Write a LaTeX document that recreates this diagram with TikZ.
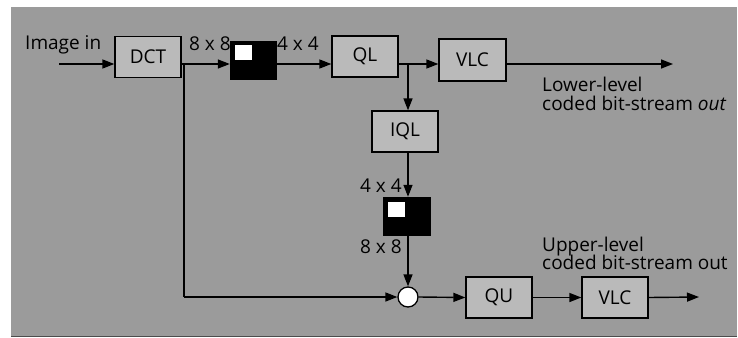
\documentclass[tikz,border=0pt]{standalone}
\usepackage{fontspec}
\setmainfont{Open Sans}
\usetikzlibrary{arrows.meta}
\definecolor{bgc}{RGB}{155,155,155}
\definecolor{boxc}{RGB}{186,186,186}
\begin{document}
\begin{tikzpicture}[x=1pt,y=-1pt,
  every node/.style={font=\fontsize{19}{21}\selectfont, inner sep=0pt},
  blk/.style={draw=black, line width=1.3pt, fill=boxc, minimum width=66pt, minimum height=41pt},
  blkbox/.style={fill=black, minimum width=47pt, minimum height=39pt},
  wsq/.style={fill=white, minimum width=17pt, minimum height=15pt},
  lbl/.style={anchor=base west},
  arr/.style={line width=1.4pt, -{Triangle[length=12pt,width=9pt]}},
  ln/.style={line width=1.4pt}]
\useasboundingbox (0,0) rectangle (738,337);
\fill[bgc] (11,7) rectangle (737,336);
\draw[black!70, line width=0.6pt] (11,336) -- (737,336);

% top row
\coordinate (row1) at (0,64);
\coordinate (in) at (59,64);
\node[blk] (DCT) at (148,57) {DCT};
\node[blkbox] (B1) at (253.5,60.5) {};
\node[wsq] (W1) at (243,52.5) {};
\node[blk] (QL) at (365,56.5) {QL};
\node[blk, minimum width=67pt, minimum height=42pt] (VLC1) at (472.5,60) {VLC};
\coordinate (out1) at (673,64);
\coordinate (br1) at (184,64);
\coordinate (br2) at (408,64);

% middle
\node[blk] (IQL) at (405,131.5) {IQL};
\node[blkbox, minimum width=48pt] (B2) at (407,216.5) {};
\node[wsq] (W2) at (396.5,209) {};
\node[circle, draw=black, fill=white, line width=1.3pt, minimum size=20pt] (C) at (408,297) {};

% bottom row
\node[blk] (QU) at (499,297.5) {QU};
\node[blk] (VLC2) at (615,297.5) {VLC};
\coordinate (out2) at (699,297);
\coordinate (corner) at (184,297);

% connectors
\draw[arr] (in) -- (DCT.west |- row1);
\draw[arr] (DCT.east |- row1) -- (B1.west |- row1);
\draw[arr] (B1.east |- row1) -- (QL.west |- row1);
\draw[arr] (QL.east |- row1) -- (VLC1.west |- row1);
\draw[arr] (VLC1.east |- row1) -- (out1);
\draw[arr] (br2) -- (br2 |- IQL.north);
\draw[arr] (br2 |- IQL.south) -- (br2 |- B2.north);
\draw[arr] (br2 |- B2.south) -- (C.north);
\draw[ln] (br1) -- (corner);
\draw[arr] (corner) -- (C.west);
\draw[arr] (C.east) -- (QU.west);
\draw[arr] (QU.east) -- (VLC2.west);
\draw[arr] (VLC2.east) -- (out2);

% labels
\node[lbl] (tin) at (25,50) {Image in};
\node[lbl] (t88a) at (189,51) {8 x 8};
\node[lbl] (t44a) at (277,51) {4 x 4};
\node[lbl] (tlow1) at (542,91) {Lower-level};
\node[lbl] (tlow2) at (542,110) {coded bit-stream \textit{out}};
\node[lbl] (t44b) at (360,192) {4 x 4};
\node[lbl] (t88b) at (360,253) {8 x 8};
\node[lbl] (tup1) at (542,251) {Upper-level};
\node[lbl] (tup2) at (542,269) {coded bit-stream out};
\end{tikzpicture}
\end{document}
